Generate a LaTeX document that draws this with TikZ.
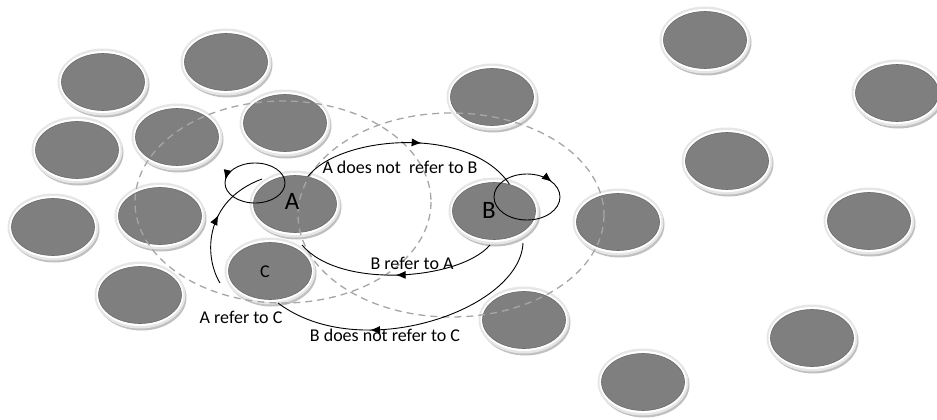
\documentclass[tikz,border=0pt]{standalone}
\usepackage{fontspec}
\setmainfont{Carlito}
\usetikzlibrary{shapes.geometric,decorations.markings,arrows.meta,calc}
\definecolor{diskgray}{HTML}{7F7F7F}
\definecolor{diskedge}{HTML}{6A6A6A}
\definecolor{rimgray}{HTML}{E6E6E6}
\definecolor{shadowgray}{HTML}{C0C0C0}
\definecolor{dashgray}{HTML}{A6A6A6}
\begin{document}
\begin{tikzpicture}[x=1pt,y=-1pt,
  disk/.style={ellipse, minimum width=83pt, minimum height=57pt, inner sep=0pt, fill=diskgray, draw=diskedge, line width=0.6pt},
  rangeell/.style={draw=dashgray, line width=1.3pt, dash pattern=on 7pt off 5pt},
  link/.style={draw=black, line width=0.9pt},
  lbl/.style={font=\fontsize{18}{20}\selectfont, inner sep=0pt},
  big/.style={font=\fontsize{25}{28}\selectfont, inner sep=0pt},
  smallbig/.style={font=\fontsize{18}{20}\selectfont, inner sep=0pt},
  fwd/.style={postaction={decorate}, decoration={markings, mark=at position #1 with {\arrow{Latex[length=10pt,width=8pt]}}}},
  bwd/.style={postaction={decorate}, decoration={markings, mark=at position #1 with {\arrowreversed{Latex[length=10pt,width=8pt]}}}},
]
\useasboundingbox (0,0) rectangle (937,420);

% disks
\foreach \n/\x/\y in {d1/103/82, d2/226/62, d3/77/150, d4/177/137, d5/285/123,
  d6/53/227, d7/160/216, A/295/204, C/270/271, d10/140/295,
  d11/492/97, B/494/211, d13/618/222, d14/524/320, d15/643/382,
  d16/705/40, d17/727/161, d18/897/93, d19/869/221, d20/812/338} {
  \fill[shadowgray] (\x+1.5,\y+2.5) ellipse (45 and 33);
  \fill[rimgray] (\x,\y) ellipse (45.5 and 33.5);
  \fill[white] (\x,\y) ellipse (43.5 and 31);
  \node[disk] (\n) at (\x,\y) {};
}

% dashed ranges
\draw[rangeell] (283,202) ellipse (148 and 101);
\draw[rangeell] (451,215) ellipse (153 and 102);

% self loops
\draw[link, bwd=0.52] ($(A)+(-40,-21)$) ellipse (30 and 20);
\draw[link, fwd=0.9] ($(B)+(33,-14)$) ellipse (33 and 23);

% connectors
\draw[link, fwd=0.55] (A.65) .. controls (340,135) and (470,125) .. (B.60);
\draw[link, fwd=0.55] ($(C)+(-50,12)$) .. controls (203,255) and (205,200) .. ($(A)+(-33,-25)$);
\draw[link, fwd=0.5] ($(B)+(-4,34)$) .. controls (460,280) and (340,290) .. ($(A)+(7,41)$);
\draw[link, fwd=0.66] ($(B)+(29,32)$) .. controls (520,310) and (360,365) .. ($(C)+(8,32)$);

% letters
\node[big] (lA) at (292,201) {A};
\node[big] (lB) at (489,210) {B};
\node[smallbig] (lC) at (265,272) {C};

% labels
\node[lbl] (l1) at (400,167) {A does not\ \ refer to B};
\node[lbl] (l2) at (412,263) {B refer to A};
\node[lbl] (l3) at (241,317) {A refer to C};
\node[lbl] (l4) at (385,335) {B does not refer to C};
\end{tikzpicture}
\end{document}
